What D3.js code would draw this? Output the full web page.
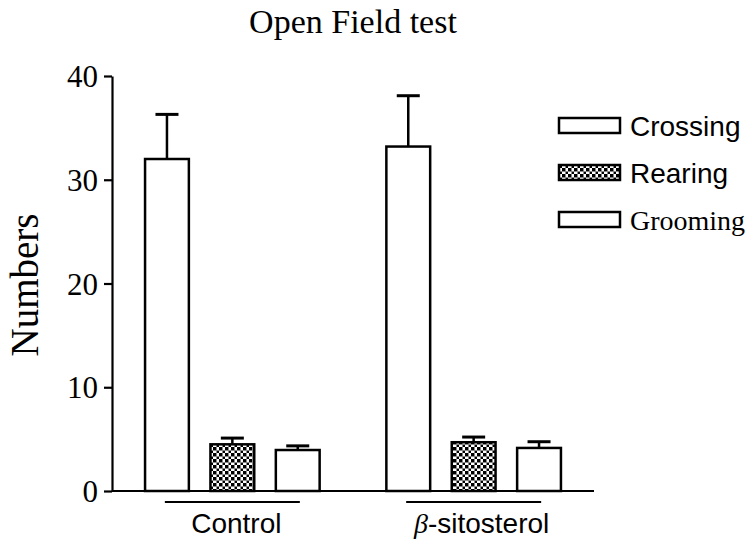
<!DOCTYPE html>
<html>
<head>
<meta charset="utf-8">
<script src="https://cdn.jsdelivr.net/npm/d3@7"></script>
<style>
  body { margin: 0; background: #fff; }
  svg { display: block; }
</style>
</head>
<body>
<div id="chart"></div>
<script>
// Open Field test - grouped bars with SEM
const groups = ["Control", "β-sitosterol"];
const series = ["Crossing", "Rearing", "Grooming"];
const means = {
  "Control":      [32.0, 4.5, 3.95],
  "β-sitosterol": [33.2, 4.7, 4.15]
};
const errors = {
  "Control":      [4.3, 0.6, 0.4],
  "β-sitosterol": [4.9, 0.5, 0.6]
};
const yTicks = [0, 10, 20, 30, 40];

const W = 756, H = 545;
const svg = d3.select("#chart").append("svg")
  .attr("width", W)
  .attr("height", H);

// pattern for Rearing (checker)
const defs = svg.append("defs");
const pat = defs.append("pattern")
  .attr("id", "checker")
  .attr("width", 6).attr("height", 6)
  .attr("patternUnits", "userSpaceOnUse");
pat.append("rect").attr("width", 6).attr("height", 6).attr("fill", "#fff");
pat.append("rect").attr("x", 0).attr("y", 0).attr("width", 3).attr("height", 3).attr("fill", "#000");
pat.append("rect").attr("x", 3).attr("y", 3).attr("width", 3).attr("height", 3).attr("fill", "#000");
pat.append("line").attr("x1", 0).attr("x2", 6).attr("y1", 0.5).attr("y2", 0.5)
  .attr("stroke", "#888").attr("stroke-width", 1);
pat.append("line").attr("x1", 0.5).attr("x2", 0.5).attr("y1", 0).attr("y2", 6)
  .attr("stroke", "#888").attr("stroke-width", 1);

const fills = { "Crossing": "#fff", "Rearing": "url(#checker)", "Grooming": "#fff" };

const y = d3.scaleLinear().domain([0, 40]).range([491, 76]);

const x0 = d3.scaleBand()
  .domain(groups)
  .range([112, 594])
  .paddingInner(0.2765)
  .paddingOuter(0.137);

const x1 = d3.scaleBand()
  .domain(series)
  .range([0, x0.bandwidth()])
  .paddingInner(0.33)
  .paddingOuter(0);

// Y axis
const yAxis = d3.axisLeft(y)
  .tickValues(yTicks)
  .tickSize(8)
  .tickPadding(6)
  .tickSizeOuter(0);

const gy = svg.append("g")
  .attr("transform", "translate(112,0)")
  .call(yAxis);
gy.select(".domain").attr("stroke", "#000").attr("stroke-width", 2.2);
gy.selectAll(".tick line").attr("stroke", "#000").attr("stroke-width", 2.2);
gy.selectAll(".tick text")
  .attr("fill", "#000")
  .style("font-family", "'Liberation Serif', 'Times New Roman', serif")
  .style("font-size", "31px")
  .attr("dy", "0.34em");

// X baseline
svg.append("line")
  .attr("x1", 112).attr("x2", 594)
  .attr("y1", y(0)).attr("y2", y(0))
  .attr("stroke", "#000").attr("stroke-width", 2.2);

// Bars
const rows = [];
groups.forEach(g => series.forEach((s, i) => {
  rows.push({ group: g, key: s, value: means[g][i], err: errors[g][i] });
}));

const bx = d => x0(d.group) + x1(d.key);

// Error bars (upward only)
svg.append("g").selectAll("line.err")
  .data(rows)
  .enter().append("line")
  .attr("class", "err")
  .attr("x1", d => bx(d) + x1.bandwidth() / 2)
  .attr("x2", d => bx(d) + x1.bandwidth() / 2)
  .attr("y1", d => y(d.value))
  .attr("y2", d => y(d.value + d.err))
  .attr("stroke", "#000").attr("stroke-width", 2.5);

svg.append("g").selectAll("line.cap")
  .data(rows)
  .enter().append("line")
  .attr("class", "cap")
  .attr("x1", d => bx(d) + x1.bandwidth() / 2 - 11.5)
  .attr("x2", d => bx(d) + x1.bandwidth() / 2 + 11.5)
  .attr("y1", d => y(d.value + d.err))
  .attr("y2", d => y(d.value + d.err))
  .attr("stroke", "#000").attr("stroke-width", 3);

svg.append("g").selectAll("rect.bar")
  .data(rows)
  .enter().append("rect")
  .attr("class", "bar")
  .attr("x", d => bx(d))
  .attr("y", d => y(d.value))
  .attr("width", x1.bandwidth())
  .attr("height", d => y(0) - y(d.value))
  .attr("fill", d => fills[d.key])
  .attr("stroke", "#000")
  .attr("stroke-width", 2.5);

// group underline + labels
const gLab = svg.append("g").selectAll("g")
  .data(groups)
  .enter().append("g")
  .attr("transform", d => `translate(${x0(d) + x0.bandwidth() / 2},0)`);

gLab.append("line")
  .attr("x1", -67.5).attr("x2", 67.5)
  .attr("y1", 502).attr("y2", 502)
  .attr("stroke", "#000").attr("stroke-width", 2);

gLab.append("text")
  .attr("y", 533)
  .attr("x", d => d.startsWith("β") ? 8 : 4)
  .attr("text-anchor", "middle")
  .style("font-family", "'Liberation Sans', Arial, sans-serif")
  .style("font-size", "28px")
  .each(function(d) {
    const t = d3.select(this);
    if (d.startsWith("β")) {
      t.append("tspan").style("font-style", "italic")
        .style("font-family", "'Liberation Serif', serif").text("β");
      t.append("tspan").text(d.slice(1));
    } else {
      t.text(d);
    }
  });

// Legend
const legend = svg.append("g").selectAll("g")
  .data(series)
  .enter().append("g")
  .attr("transform", (d, i) => `translate(559,${[118, 165, 212][i]})`);

legend.append("rect")
  .attr("width", 61).attr("height", 15)
  .attr("fill", d => fills[d])
  .attr("stroke", "#000").attr("stroke-width", 2.5);

legend.append("text")
  .attr("x", 71)
  .attr("y", 8)
  .attr("dy", "0.35em")
  .style("font-family", d => d === "Grooming"
    ? "'Liberation Serif', 'Times New Roman', serif"
    : "'Liberation Sans', Arial, sans-serif")
  .style("font-size", d => d === "Grooming" ? "28px" : "28px")
  .text(d => d);

// Axis title
svg.append("text")
  .attr("transform", "translate(38,285) rotate(-90)")
  .attr("text-anchor", "middle")
  .style("font-family", "'Liberation Serif', 'Times New Roman', serif")
  .style("font-size", "39px")
  .text("Numbers");

// Chart title
svg.append("text")
  .attr("x", 353)
  .attr("y", 33)
  .attr("text-anchor", "middle")
  .style("font-family", "'Liberation Serif', 'Times New Roman', serif")
  .style("font-size", "34px")
  .text("Open Field test");
</script>
</body>
</html>
